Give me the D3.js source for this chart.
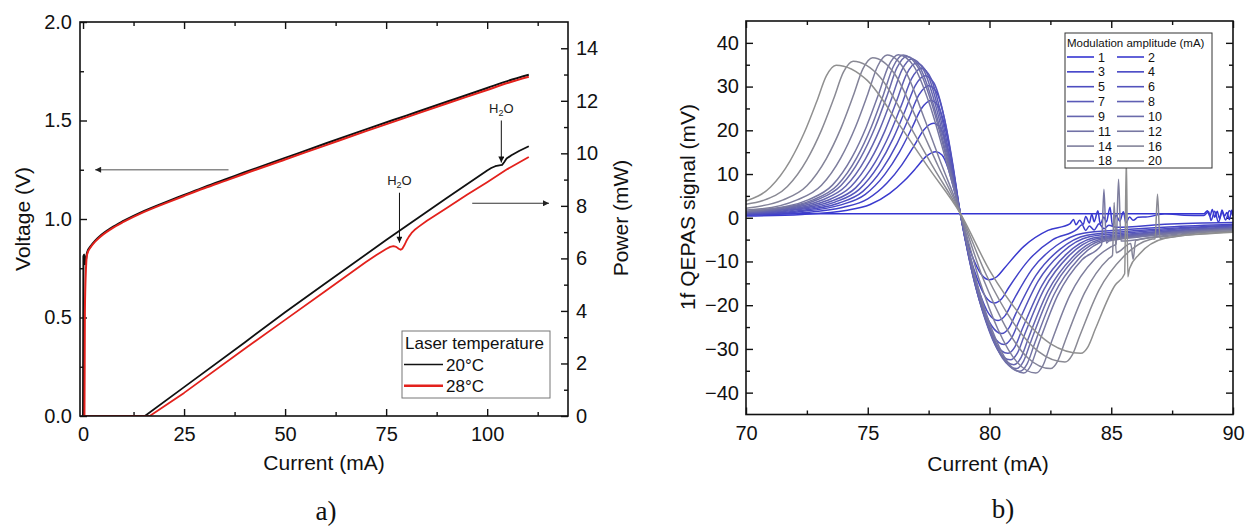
<!DOCTYPE html>
<html>
<head>
<meta charset="utf-8">
<script src="https://cdn.jsdelivr.net/npm/d3@7"></script>
<style>
  body { margin: 0; background: #fff; }
  svg { display: block; }
</style>
</head>
<body>
<svg id="chart" width="1255" height="529"></svg>
<script>
'use strict';

// ── panel a) : L-I-V ──────────────────────────────────────────────
const currentTicksA = [0, 25, 50, 75, 100];
const currentMinorA = [12.5, 37.5, 62.5, 87.5, 112.5];
const voltageTicks = [0, 0.5, 1.0, 1.5, 2.0];
const voltageMinor = [0.25, 0.75, 1.25, 1.75];
const powerTicks = [0, 2, 4, 6, 8, 10, 12, 14];
const powerMinor = [1, 3, 5, 7, 9, 11, 13];

const voltage20 = [[0, 0], [0.1, 0.81], [0.3, 0.82], [0.5, 0.77], [0.7, 0.79], [1, 0.83], [2, 0.865], [3, 0.89],
  [4, 0.91], [7, 0.955], [10, 0.99], [15, 1.04], [20, 1.082], [25, 1.122], [30, 1.162], [36, 1.207], [40, 1.237],
  [50, 1.31], [60, 1.383], [70, 1.455], [80, 1.525], [90, 1.595], [100, 1.665], [105, 1.7], [110.3, 1.732]];
const voltage28 = [[0, 0], [0.35, 0], [0.45, 0.5], [0.55, 0.64], [0.65, 0.71], [0.8, 0.78], [1, 0.82], [2, 0.86],
  [3, 0.885], [4, 0.905], [7, 0.95], [10, 0.985], [15, 1.035], [20, 1.077], [25, 1.117], [30, 1.156], [36, 1.2],
  [40, 1.23], [50, 1.302], [60, 1.374], [70, 1.446], [80, 1.516], [90, 1.586], [100, 1.655], [105, 1.69],
  [110.3, 1.722]];
const power20 = [[0, 0], [15.3, 0], [25, 1.1], [40, 2.8], [50, 3.95], [60, 5.05], [75, 6.7], [90, 8.3],
  [100, 9.35], [101, 9.44], [102, 9.51], [103, 9.54], [103.7, 9.56], [104.2, 9.66], [104.8, 9.8], [106, 9.93],
  [108, 10.1], [110.3, 10.27]];
const power28 = [[0, 0], [16.5, 0], [25, 0.88], [40, 2.56], [50, 3.66], [60, 4.76], [70, 5.86], [72.5, 6.12],
  [75, 6.36], [76, 6.44], [76.8, 6.47], [77.5, 6.44], [78.1, 6.37], [78.6, 6.33], [79, 6.37], [79.5, 6.5],
  [80, 6.66], [80.6, 6.82], [81.3, 6.97], [82, 7.08], [83, 7.2], [85, 7.42], [90, 7.92], [95, 8.42], [100, 8.9],
  [105, 9.4], [110.3, 9.86]];

const tempLabels = ['20°C', '28°C'];
const tempColors = ['#111111', '#e3211c'];
// H2O absorption marks: current, label level, arrow from / to (power axis, mW)
const waterMarks = [
  { current: 78.3, label: 8.8, from: 8.5, to: 6.6 },
  { current: 103.5, label: 11.55, from: 11.25, to: 9.65 }
];
const voltageArrow = { from: 36, to: 3, level: 1.25 };
const powerArrow = { from: 96.3, to: 115.3, level: 8.1 };

// ── panel b) : 1f QEPAS ───────────────────────────────────────────
const signalTicksX = [70, 75, 80, 85, 90];
const signalMinorX = [72.5, 77.5, 82.5, 87.5];
const signalTicksY = [-40, -30, -20, -10, 0, 10, 20, 30, 40];
const signalMinorY = [-35, -25, -15, -5, 5, 15, 25, 35];
const modAmps = [1, 2, 3, 4, 5, 6, 7, 8, 9, 10, 11, 12, 14, 16, 18, 20];

const sig01 = [[70, 0.9], [83.4, 0.9], [88.8, 0.9], [88.95, 1.6], [89.05, 0.3], [89.15, 1.9], [89.25, 0.1],
  [89.35, 1.5], [89.45, -0.2], [89.55, 1.8], [89.65, 0.4], [89.75, 1.2], [89.85, -0.4], [89.95, 1.7], [90, 0.9]];
const sig02 = [[70, 0.38], [72.3, 0.76], [74.1, 1.66], [75.1, 3.02], [75.9, 5.59], [76.5, 8.46], [77.0, 11.48],
  [77.4, 14.04], [77.8, 15.1], [78.05, 14.35], [78.3, 11.33], [78.55, 6.34], [78.8, 1], [79.1, -5.68],
  [79.4, -10.22], [79.7, -13.21], [80.0, -14.2], [80.3, -13.49], [80.6, -11.6], [81.4, -6.6], [82.4, -2.9],
  [83.3, -1.4], [83.45, -0.4], [83.55, -1.6], [83.7, -0.6], [83.85, -1.5], [83.95, 0.3], [84.1, -1.2],
  [84.2, 0.8], [84.3, -0.9], [84.45, 1.6], [84.55, -1.4], [84.7, 0.2], [84.8, -1.0], [84.95, 2.4],
  [85.05, -1.8], [85.2, 0.6], [85.35, -0.8], [85.5, 1.4], [85.6, -1.2], [85.75, 0.2], [85.9, -0.6],
  [86.1, 0.1], [86.5, 0.2], [87.2, 0.9], [88.0, 0.6], [88.8, 0.5], [89.0, 1.4], [89.1, -0.6], [89.25, 1.5],
  [89.4, -1.0], [89.55, 1.2], [89.7, -0.5], [89.85, 1.6], [90, 0.4]];
const sig03 = [[70, 0.55], [72.2, 1.08], [74.0, 2.38], [75.0, 4.32], [75.8, 7.99], [76.4, 12.1], [76.9, 16.42],
  [77.3, 20.09], [77.7, 21.6], [77.98, 20.52], [78.25, 16.2], [78.53, 9.07], [78.8, 1], [79.15, -7.8],
  [79.5, -14.04], [79.85, -18.14], [80.2, -19.5], [80.5, -18.53], [80.8, -15.9], [81.6, -9.75], [82.6, -5.0],
  [83.6, -2.6], [83.8, -1.6], [83.95, -2.9], [84.1, -1.9], [84.3, -2.8], [84.5, -1.4], [84.7, -2.5],
  [84.9, -1.7], [85.2, -2.2], [87.2, -1.5], [90, -1.1]];
const sig04 = [[70, 0.7], [72.1, 1.34], [73.9, 2.95], [74.9, 5.36], [75.7, 9.92], [76.3, 15.01], [76.8, 20.37],
  [77.2, 24.92], [77.6, 26.8], [77.9, 25.46], [78.2, 20.1], [78.5, 11.26], [78.8, 1], [79.19, -9.4],
  [79.58, -16.92], [79.96, -21.86], [80.35, -23.5], [80.65, -22.33], [80.95, -19.2], [81.75, -11.75],
  [82.75, -6.35], [83.85, -3.53], [85.35, -2.82], [87.35, -2.12], [90, -1.5]];
const sig05 = [[70, 0.79], [72.0, 1.51], [73.8, 3.32], [74.8, 6.04], [75.6, 11.17], [76.2, 16.91], [76.7, 22.95],
  [77.1, 28.09], [77.5, 30.2], [77.83, 28.69], [78.15, 22.65], [78.48, 12.68], [78.8, 1], [79.23, -10.6],
  [79.65, -19.08], [80.08, -24.65], [80.5, -26.5], [80.8, -25.18], [81.1, -21.7], [81.9, -13.25],
  [82.9, -7.16], [84.0, -3.98], [85.5, -3.18], [87.5, -2.39], [90, -1.7]];
const sig06 = [[70, 0.88], [71.85, 1.63], [73.65, 3.58], [74.65, 6.5], [75.45, 12.03], [76.05, 18.2],
  [76.55, 24.7], [76.95, 30.23], [77.35, 32.5], [77.71, 30.88], [78.08, 24.38], [78.44, 13.65], [78.8, 1],
  [79.25, -11.6], [79.7, -20.88], [80.15, -26.97], [80.6, -29], [80.9, -27.55], [81.2, -23.8], [82.0, -14.5],
  [83.0, -7.83], [84.1, -4.35], [85.6, -3.48], [87.6, -2.61], [90, -1.9]];
const sig07 = [[70, 1.0], [71.7, 1.71], [73.5, 3.76], [74.5, 6.84], [75.3, 12.65], [75.9, 19.15], [76.4, 25.99],
  [76.8, 31.81], [77.2, 34.2], [77.6, 31.81], [78.0, 23.94], [78.4, 13.0], [78.8, 1], [79.29, -12.4],
  [79.78, -22.32], [80.26, -28.83], [80.75, -31], [81.05, -29.45], [81.35, -25.4], [82.15, -15.5],
  [83.15, -8.37], [84.25, -4.65], [85.75, -3.72], [87.75, -2.79], [90, -2.1]];
const sig08 = [[70, 1.1], [71.5, 1.77], [73.3, 3.89], [74.3, 7.08], [75.1, 13.1], [75.7, 19.82], [76.2, 26.9],
  [76.6, 32.92], [77.0, 35.4], [77.45, 32.92], [77.9, 24.78], [78.35, 13.45], [78.8, 1], [79.31, -13.0],
  [79.83, -23.4], [80.34, -30.23], [80.85, -32.5], [81.15, -30.88], [81.45, -26.6], [82.25, -16.25],
  [83.25, -8.78], [84.35, -4.88], [85.85, -3.9], [87.85, -2.93], [90, -2.2]];
const sig09 = [[70, 1.2], [71.3, 1.82], [73.1, 3.99], [74.1, 7.26], [74.9, 13.43], [75.5, 20.33], [76.0, 27.59],
  [76.4, 33.76], [76.8, 36.3], [77.3, 33.76], [77.8, 25.41], [78.3, 13.79], [78.8, 1], [79.35, -13.44],
  [79.9, -24.19], [80.45, -31.25], [81.0, -33.6], [81.3, -31.92], [81.6, -27.5], [82.4, -16.8],
  [83.4, -9.07], [84.5, -5.04], [86.0, -4.03], [88.0, -3.02], [90, -2.4]];
const sig10 = [[70, 1.33], [71.1, 1.85], [72.9, 4.06], [73.9, 7.38], [74.7, 13.65], [75.3, 20.66], [75.8, 28.04],
  [76.2, 34.32], [76.6, 36.9], [77.15, 34.32], [77.7, 25.83], [78.25, 14.02], [78.8, 1], [79.38, -13.8],
  [79.95, -24.84], [80.53, -32.09], [81.1, -34.5], [81.4, -32.78], [81.7, -28.3], [82.5, -17.25],
  [83.5, -9.32], [84.6, -5.18], [86.1, -4.14], [88.1, -3.1], [90, -2.5]];
const sig11 = [[70, 1.4], [70.95, 1.86], [72.75, 4.09], [73.75, 7.44], [74.55, 13.76], [75.15, 20.83],
  [75.65, 28.27], [76.05, 34.6], [76.45, 37.2], [77.04, 34.6], [77.63, 26.04], [78.21, 14.14], [78.8, 1],
  [79.41, -14.04], [80.03, -25.27], [80.64, -32.64], [81.25, -35.1], [81.55, -33.35], [81.85, -28.8],
  [82.65, -17.55], [83.65, -9.48], [84.75, -5.27], [86.25, -4.21], [88.25, -3.16], [90, -2.6]];
const sig12 = [[70, 1.5], [70.75, 1.87], [72.55, 4.1], [73.55, 7.46], [74.35, 13.8], [74.95, 20.89],
  [75.45, 28.35], [75.85, 34.69], [76.25, 37.3], [76.89, 34.69], [77.53, 26.11], [78.16, 14.17], [78.8, 1],
  [79.45, -14.2], [80.1, -25.56], [80.75, -33.02], [81.4, -35.5], [81.7, -33.73], [82.0, -29.1], [82.8, -17.75],
  [83.8, -9.59], [84.6, -6.2], [84.7, 6.5], [84.8, -5.8], [84.9, -5.33], [86.4, -4.26], [88.4, -3.2], [90, -2.7]];
const sig14 = [[70, 1.8], [70.3, 1.86], [72.1, 4.09], [73.1, 7.44], [73.9, 13.76], [74.5, 20.83], [75.0, 28.27],
  [75.4, 34.6], [75.8, 37.2], [76.55, 33.48], [77.3, 23.06], [78.05, 11.9], [78.8, 1], [79.58, -14.2],
  [80.35, -25.56], [81.13, -33.02], [81.9, -35.5], [82.2, -33.73], [82.5, -29.1], [83.3, -17.75],
  [84.3, -9.59], [85.0, -6.6], [85.2, -6.0], [85.3, 8.8], [85.4, -5.33], [86.9, -4.26], [88.9, -3.2], [90, -3.0]];
const sig16 = [[70, 2.2], [71.5, 4.03], [72.5, 7.32], [73.3, 13.54], [73.9, 20.5], [74.4, 27.82], [74.8, 34.04],
  [75.2, 36.6], [76.1, 32.94], [77.0, 22.69], [77.9, 11.71], [78.8, 1], [79.73, -13.8], [80.65, -24.84],
  [81.58, -32.09], [82.5, -34.5], [82.8, -32.78], [83.1, -28.3], [83.9, -17.25], [84.9, -9.32], [85.05, -8.6],
  [85.12, 3.5], [85.2, -8.0], [85.8, -5.9], [85.9, -9.5], [86.0, -5.18], [87.5, -4.14], [89.5, -3.1], [90, -3.05]];
const sig18 = [[70, 3.1], [70.7, 3.94], [71.7, 7.16], [72.5, 13.25], [73.1, 20.05], [73.6, 27.21], [74.0, 33.29],
  [74.4, 35.8], [75.5, 32.22], [76.6, 22.2], [77.7, 11.46], [78.8, 1], [79.88, -13.2], [80.95, -23.76],
  [82.03, -30.69], [83.1, -33], [83.4, -31.35], [83.7, -27.1], [84.5, -16.5], [85.5, -8.91], [86.6, -4.95],
  [86.8, -4.8], [86.9, 5.4], [87.0, -4.7], [88.1, -3.96], [90, -3.2]];
const sig20 = [[70, 3.84], [71.0, 6.98], [71.8, 12.91], [72.4, 19.54], [72.9, 26.52], [73.3, 32.46], [73.7, 34.9],
  [74.98, 31.41], [76.25, 21.64], [77.53, 11.17], [78.8, 1], [80.04, -12.4], [81.28, -22.32], [82.51, -28.83],
  [83.75, -31], [84.05, -29.45], [84.35, -25.4], [85.15, -15.5], [85.55, -12.8], [85.62, 14], [85.68, -13.5],
  [85.75, -11.6], [86.15, -8.37], [87.25, -4.65], [88.75, -3.72], [90, -3.3]];

const signalSeries = [sig01, sig02, sig03, sig04, sig05, sig06, sig07, sig08, sig09, sig10, sig11, sig12,
  sig14, sig16, sig18, sig20];

// ─────────────────────────────────────────────────────────────────
const svg = d3.select('#chart');
const FONT = '"Liberation Sans", Arial, Helvetica, sans-serif';
const TICK = 7, MINOR = 4;

function styleAxis(g, size) {
  g.select('.domain').remove();
  g.selectAll('line').attr('stroke', '#111').attr('stroke-width', 1.4);
  g.selectAll('text').attr('font-size', size).attr('font-family', FONT).attr('fill', '#111');
}

function addAxis(gen, tx, ty) {
  return svg.append('g').attr('transform', `translate(${tx},${ty})`).call(gen).call(g => styleAxis(g, 20));
}

function frame(x0, y0, x1, y1) {
  svg.append('rect')
    .attr('x', x0).attr('y', y0).attr('width', x1 - x0).attr('height', y1 - y0)
    .attr('fill', 'none').attr('stroke', '#111').attr('stroke-width', 1.6);
}

const defs = svg.append('defs');
function arrowMarker(id, color, w, h) {
  defs.append('marker')
    .attr('id', id).attr('viewBox', '0 0 10 10').attr('refX', 10).attr('refY', 5)
    .attr('markerUnits', 'userSpaceOnUse').attr('markerWidth', w).attr('markerHeight', h)
    .attr('orient', 'auto')
    .append('path').attr('d', 'M0,0 L10,5 L0,10 z').attr('fill', color);
}
arrowMarker('headDark', '#222', 10, 6);
arrowMarker('headSmall', '#111', 8, 6);

// ── panel a ──────────────────────────────────────────────────────
const xA = d3.scaleLinear().domain([-0.75, 120]).range([80, 568]);
const yV = d3.scaleLinear().domain([0, 2]).range([416, 22]);
const yP = d3.scaleLinear().domain([0, 15]).range([416, 22]);

addAxis(d3.axisBottom(xA).tickValues(currentTicksA).tickSize(-TICK).tickPadding(11).tickFormat(d3.format('d')), 0, 416);
addAxis(d3.axisBottom(xA).tickValues(currentMinorA).tickSize(-MINOR).tickFormat(''), 0, 416);
addAxis(d3.axisTop(xA).tickValues(currentTicksA).tickSize(-TICK).tickFormat(''), 0, 22);
addAxis(d3.axisTop(xA).tickValues(currentMinorA).tickSize(-MINOR).tickFormat(''), 0, 22);
addAxis(d3.axisLeft(yV).tickValues(voltageTicks).tickSize(-TICK).tickPadding(8).tickFormat(d3.format('.1f')), 80, 0);
addAxis(d3.axisLeft(yV).tickValues(voltageMinor).tickSize(-MINOR).tickFormat(''), 80, 0);
addAxis(d3.axisRight(yP).tickValues(powerTicks).tickSize(-TICK).tickPadding(8).tickFormat(d3.format('d')), 568, 0);
addAxis(d3.axisRight(yP).tickValues(powerMinor).tickSize(-MINOR).tickFormat(''), 568, 0);

defs.append('clipPath').attr('id', 'clipA')
  .append('rect').attr('x', 80).attr('y', 22).attr('width', 488).attr('height', 394);

const lineV = d3.line().x(d => xA(d[0])).y(d => yV(d[1])).curve(d3.curveMonotoneX);
const lineP = d3.line().x(d => xA(d[0])).y(d => yP(d[1]));
const plotA = svg.append('g').attr('clip-path', 'url(#clipA)');

[[voltage20, power20], [voltage28, power28]].forEach((pair, i) => {
  plotA.append('path').attr('d', lineV(pair[0])).attr('fill', 'none')
    .attr('stroke', tempColors[i]).attr('stroke-width', 2).attr('stroke-linejoin', 'round');
  plotA.append('path').attr('d', lineP(pair[1])).attr('fill', 'none')
    .attr('stroke', tempColors[i]).attr('stroke-width', 1.8).attr('stroke-linejoin', 'round');
});

frame(80, 22, 568, 416);

// direction arrows
svg.append('line')
  .attr('x1', xA(voltageArrow.from)).attr('x2', xA(voltageArrow.to))
  .attr('y1', yV(voltageArrow.level)).attr('y2', yV(voltageArrow.level))
  .attr('stroke', '#8a8a8a').attr('stroke-width', 1.3).attr('marker-end', 'url(#headDark)');
svg.append('line')
  .attr('x1', xA(powerArrow.from)).attr('x2', xA(powerArrow.to))
  .attr('y1', yP(powerArrow.level)).attr('y2', yP(powerArrow.level))
  .attr('stroke', '#333').attr('stroke-width', 1.2).attr('marker-end', 'url(#headDark)');

// H2O marks
waterMarks.forEach(m => {
  svg.append('line')
    .attr('x1', xA(m.current)).attr('x2', xA(m.current))
    .attr('y1', yP(m.from)).attr('y2', yP(m.to))
    .attr('stroke', '#111').attr('stroke-width', 1).attr('marker-end', 'url(#headSmall)');
  const t = svg.append('text').attr('x', xA(m.current)).attr('y', yP(m.label))
    .attr('text-anchor', 'middle').attr('font-family', FONT).attr('font-size', 13).attr('fill', '#222');
  t.append('tspan').text('H');
  t.append('tspan').attr('font-size', 9).attr('dy', 3).text('2');
  t.append('tspan').attr('dy', -3).text('O');
});

// legend a
const legA = svg.append('g');
legA.append('rect').attr('x', 402).attr('y', 331).attr('width', 148).attr('height', 67)
  .attr('fill', '#fff').attr('stroke', '#777').attr('stroke-width', 1);
legA.append('text').attr('x', 405).attr('y', 349).text('Laser temperature')
  .attr('font-family', FONT).attr('font-size', 17).attr('fill', '#111');
tempLabels.forEach((lab, i) => {
  const y = 364.5 + i * 21.3;
  legA.append('line').attr('x1', 404).attr('x2', 443).attr('y1', y).attr('y2', y)
    .attr('stroke', tempColors[i]).attr('stroke-width', i ? 2.6 : 1.6);
  legA.append('text').attr('x', 446).attr('y', y + 6).text(lab)
    .attr('font-family', FONT).attr('font-size', 17).attr('fill', '#111');
});

// axis titles a
svg.append('text').attr('x', 324).attr('y', 470).attr('text-anchor', 'middle')
  .attr('font-family', FONT).attr('font-size', 21).attr('fill', '#111').text('Current (mA)');
svg.append('text').attr('transform', 'translate(23,219) rotate(-90)').attr('text-anchor', 'middle')
  .attr('dy', '0.35em').attr('font-family', FONT).attr('font-size', 21).attr('fill', '#111').text('Voltage (V)');
svg.append('text').attr('transform', 'translate(621,218) rotate(-90)').attr('text-anchor', 'middle')
  .attr('dy', '0.35em').attr('font-family', FONT).attr('font-size', 21).attr('fill', '#111').text('Power (mW)');
svg.append('text').attr('x', 326).attr('y', 520).attr('text-anchor', 'middle')
  .attr('font-family', '"Liberation Serif", "Times New Roman", serif').attr('font-size', 27).attr('fill', '#111').text('a)');

// ── panel b ──────────────────────────────────────────────────────
const xB = d3.scaleLinear().domain([70, 90]).range([746, 1233]);
const yB = d3.scaleLinear().domain([-45, 45]).range([414.5, 21]);

addAxis(d3.axisBottom(xB).tickValues(signalTicksX).tickSize(-TICK).tickPadding(11).tickFormat(d3.format('d')), 0, 414.5);
addAxis(d3.axisBottom(xB).tickValues(signalMinorX).tickSize(-MINOR).tickFormat(''), 0, 414.5);
addAxis(d3.axisTop(xB).tickValues(signalTicksX).tickSize(-TICK).tickFormat(''), 0, 21);
addAxis(d3.axisTop(xB).tickValues(signalMinorX).tickSize(-MINOR).tickFormat(''), 0, 21);
addAxis(d3.axisLeft(yB).tickValues(signalTicksY).tickSize(-TICK).tickPadding(7).tickFormat(d3.format('d')), 746, 0);
addAxis(d3.axisLeft(yB).tickValues(signalMinorY).tickSize(-MINOR).tickFormat(''), 746, 0);
addAxis(d3.axisRight(yB).tickValues(signalTicksY).tickSize(-TICK).tickFormat(''), 1233, 0);
addAxis(d3.axisRight(yB).tickValues(signalMinorY).tickSize(-MINOR).tickFormat(''), 1233, 0);

defs.append('clipPath').attr('id', 'clipB')
  .append('rect').attr('x', 746).attr('y', 21).attr('width', 487).attr('height', 393.5);

const ampColor = d3.scaleLinear().domain([0, modAmps.length - 1])
  .range(['#3434d2', '#909090']).interpolate(d3.interpolateRgb);
const lineB = d3.line().x(d => xB(d[0])).y(d => yB(d[1])).curve(d3.curveMonotoneX);
const plotB = svg.append('g').attr('clip-path', 'url(#clipB)');

signalSeries.forEach((s, i) => {
  plotB.append('path').attr('d', lineB(s)).attr('fill', 'none')
    .attr('stroke', ampColor(i)).attr('stroke-width', 1.5).attr('stroke-linejoin', 'round');
});

frame(746, 21, 1233, 414.5);

// legend b
const legB = svg.append('g');
legB.append('rect').attr('x', 1065).attr('y', 33).attr('width', 147).attr('height', 135)
  .attr('fill', '#fff').attr('stroke', '#333').attr('stroke-width', 1);
legB.append('text').attr('x', 1067).attr('y', 47).text('Modulation amplitude (mA)')
  .attr('font-family', FONT).attr('font-size', 11.5).attr('fill', '#111');
modAmps.forEach((a, i) => {
  const row = Math.floor(i / 2), col = i % 2;
  const y = 57 + row * 14.85;
  const x0 = col ? 1117 : 1067;
  legB.append('line').attr('x1', x0).attr('x2', x0 + 27).attr('y1', y).attr('y2', y)
    .attr('stroke', ampColor(i)).attr('stroke-width', 1.6);
  legB.append('text').attr('x', x0 + 31).attr('y', y + 4.5).text(a)
    .attr('font-family', FONT).attr('font-size', 12.5).attr('fill', '#111');
});

// axis titles b
svg.append('text').attr('x', 988).attr('y', 471).attr('text-anchor', 'middle')
  .attr('font-family', FONT).attr('font-size', 21).attr('fill', '#111').text('Current (mA)');
svg.append('text').attr('transform', 'translate(688,207) rotate(-90)').attr('text-anchor', 'middle')
  .attr('dy', '0.35em').attr('font-family', FONT).attr('font-size', 21).attr('fill', '#111').text('1f QEPAS signal (mV)');
svg.append('text').attr('x', 1003).attr('y', 518).attr('text-anchor', 'middle')
  .attr('font-family', '"Liberation Serif", "Times New Roman", serif').attr('font-size', 27).attr('fill', '#111').text('b)');
</script>
</body>
</html>
